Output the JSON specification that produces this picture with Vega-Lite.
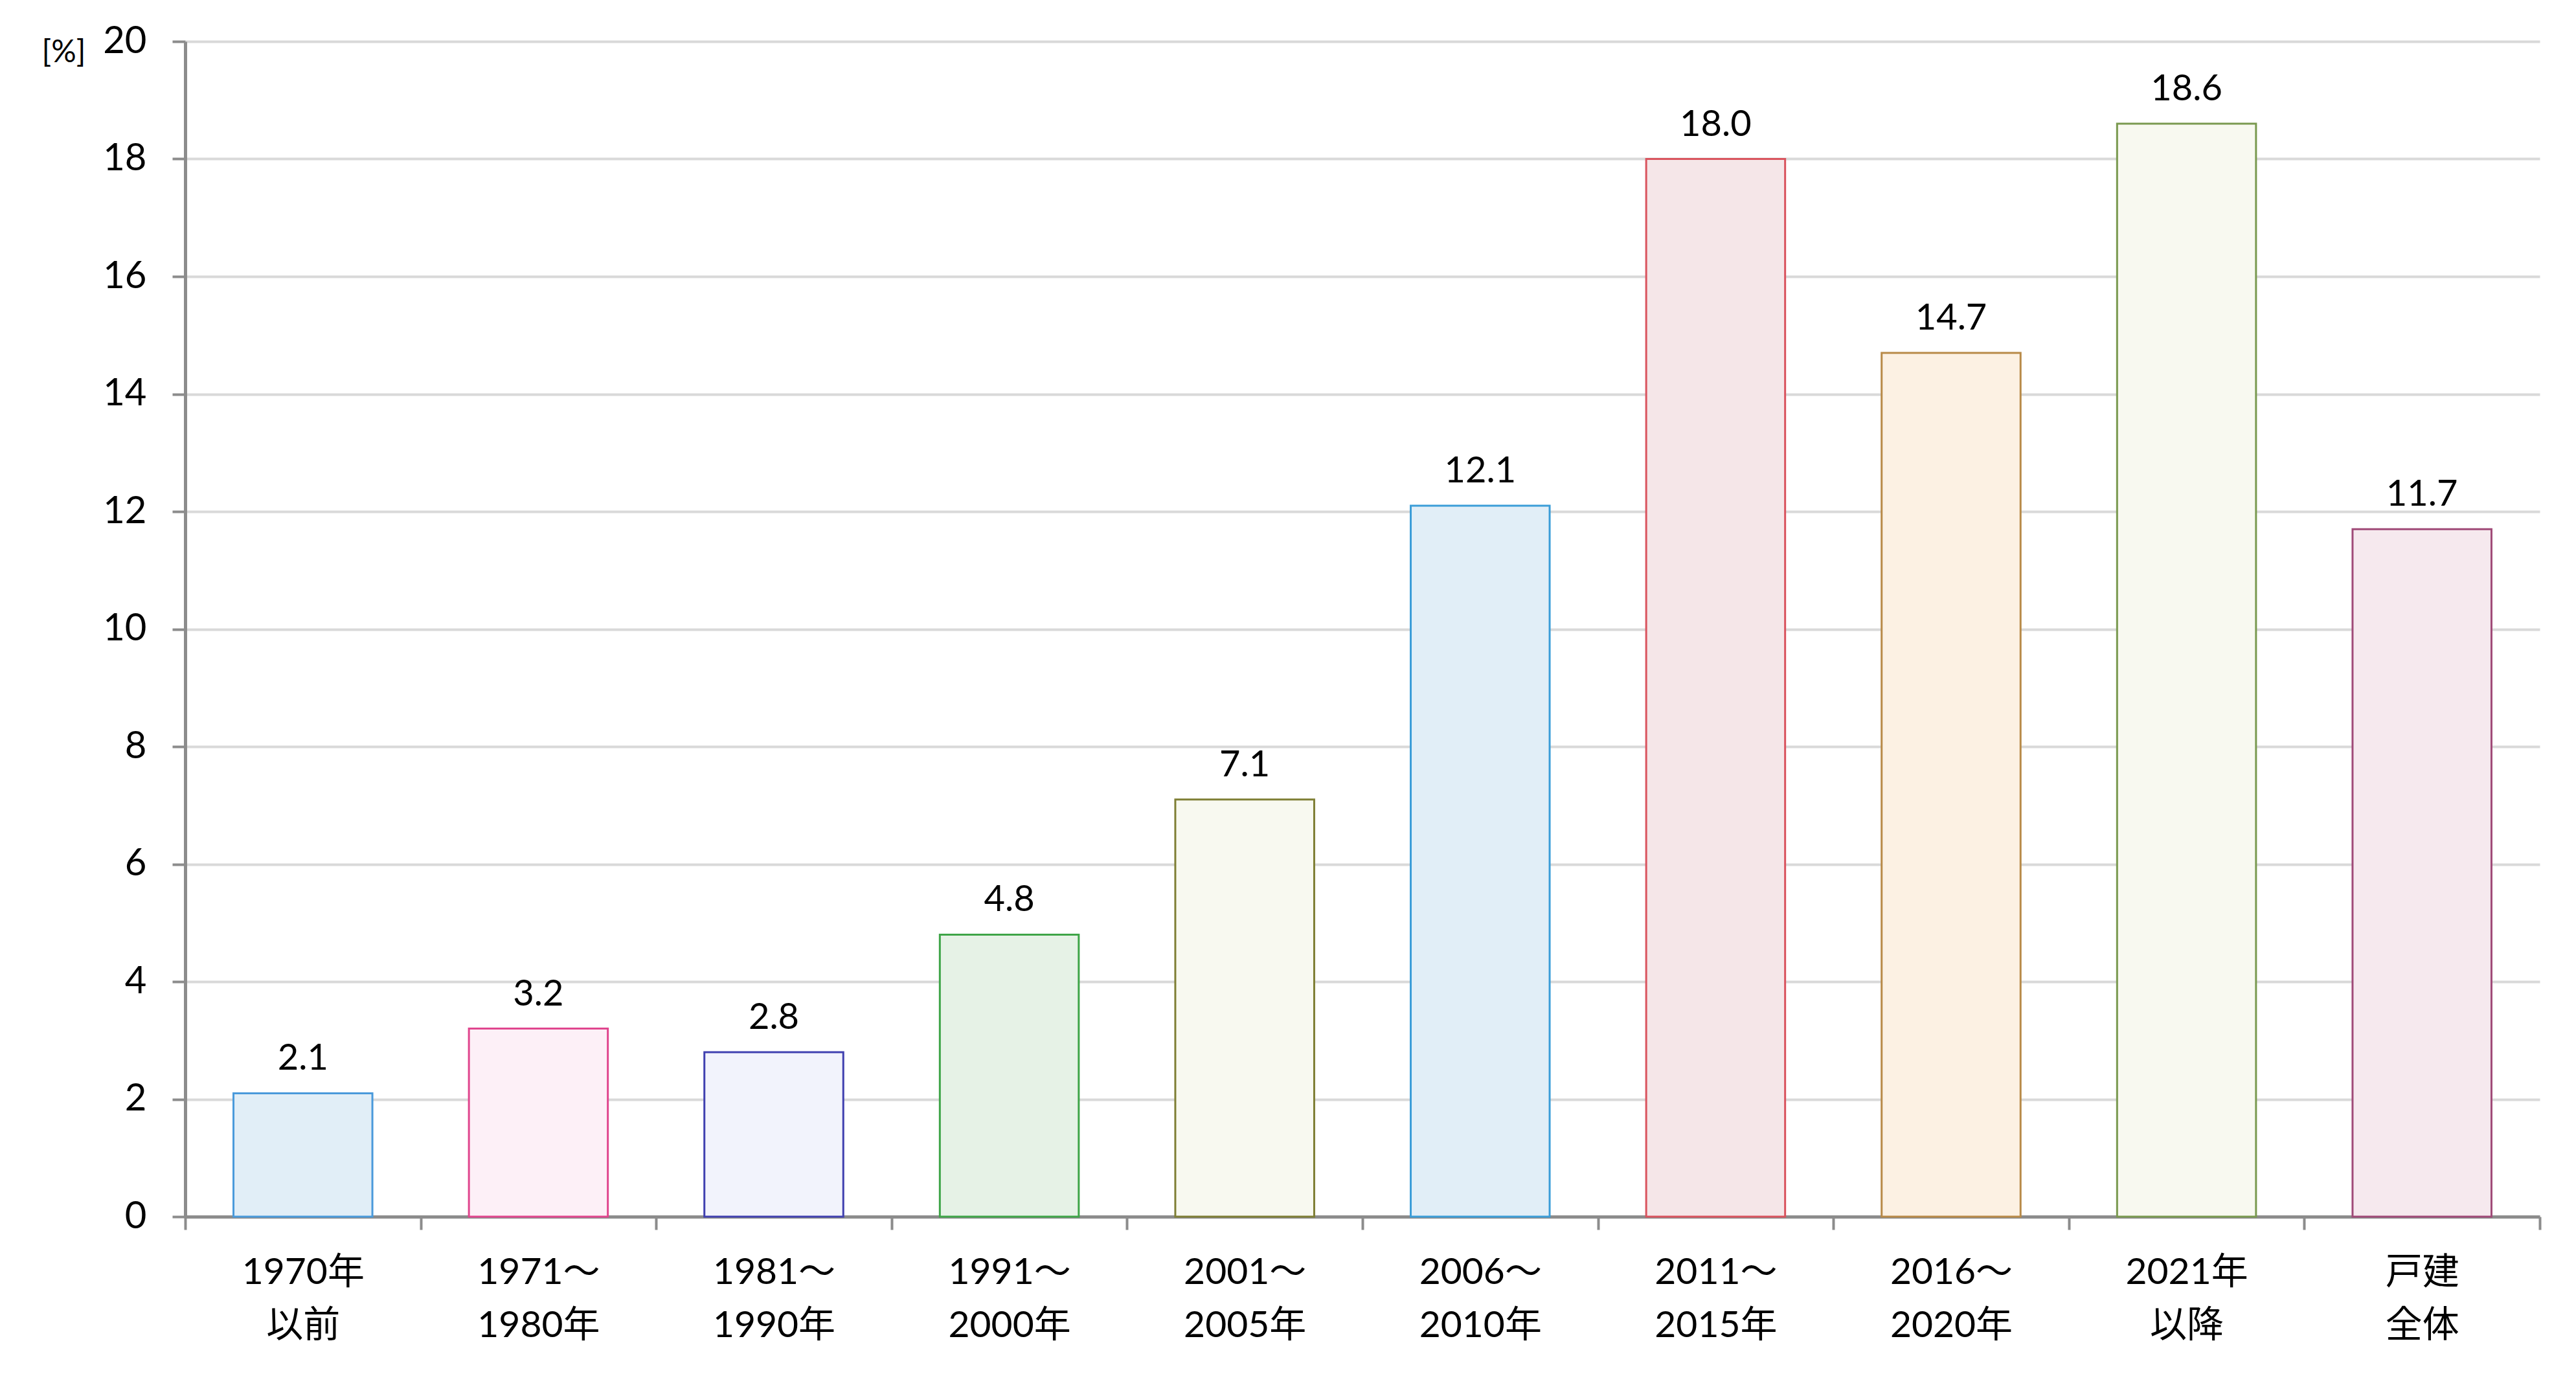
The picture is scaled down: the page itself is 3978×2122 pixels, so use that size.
{
  "$schema": "https://vega.github.io/schema/vega-lite/v6.json",
  "autosize": {"type": "none"},
  "width": 3636,
  "height": 1815,
  "padding": {"left": 286, "top": 64, "right": 56, "bottom": 243},
  "background": "white",
  "config": {
    "view": {"stroke": null},
    "font": "Lato, Noto Sans CJK JP, sans-serif"
  },
  "data": {
    "values": [
      {"cat": "1970年|以前", "value": 2.1},
      {"cat": "1971〜|1980年", "value": 3.2},
      {"cat": "1981〜|1990年", "value": 2.8},
      {"cat": "1991〜|2000年", "value": 4.8},
      {"cat": "2001〜|2005年", "value": 7.1},
      {"cat": "2006〜|2010年", "value": 12.1},
      {"cat": "2011〜|2015年", "value": 18.0},
      {"cat": "2016〜|2020年", "value": 14.7},
      {"cat": "2021年|以降", "value": 18.6},
      {"cat": "戸建|全体", "value": 11.7}
    ]
  },
  "encoding": {
    "x": {
      "field": "cat",
      "type": "nominal",
      "sort": null,
      "scale": {"paddingInner": 0, "paddingOuter": 0},
      "axis": {
        "title": null,
        "labelAngle": 0,
        "labelExpr": "split(datum.label, '|')",
        "labelFont": "Lato, Noto Sans CJK JP, sans-serif",
        "labelFontSize": 57,
        "labelColor": "#000000",
        "labelLineHeight": 82,
        "labelBaseline": "top",
        "labelPadding": 38,
        "labelLimit": 0,
        "tickBand": "extent",
        "tickSize": 20,
        "tickWidth": 4,
        "tickColor": "#8C8C8C",
        "domainColor": "#8C8C8C",
        "domainWidth": 5,
        "grid": false
      }
    },
    "y": {
      "field": "value",
      "type": "quantitative",
      "scale": {"domain": [0, 20]},
      "axis": {
        "title": "[%]",
        "titleAngle": 0,
        "titleX": -188,
        "titleY": 17,
        "titleAlign": "center",
        "titleBaseline": "middle",
        "titleFontSize": 48,
        "titleFontWeight": "normal",
        "titleColor": "#000000",
        "titleFont": "Lato, sans-serif",
        "values": [0, 2, 4, 6, 8, 10, 12, 14, 16, 18, 20],
        "labelFontSize": 58,
        "labelColor": "#000000",
        "labelFont": "Lato, sans-serif",
        "labelPadding": 40,
        "tickSize": 20,
        "tickWidth": 4,
        "tickColor": "#8C8C8C",
        "domainColor": "#8C8C8C",
        "domainWidth": 5,
        "grid": true,
        "gridColor": "#D9D9D9",
        "gridWidth": 4
      }
    }
  },
  "layer": [
    {
      "mark": {"type": "bar", "strokeWidth": 3, "width": {"band": 0.59}},
      "encoding": {
        "fill": {
          "field": "cat",
          "type": "nominal",
          "sort": null,
          "legend": null,
          "scale": {
            "domain": ["1970年|以前", "1971〜|1980年", "1981〜|1990年", "1991〜|2000年", "2001〜|2005年", "2006〜|2010年", "2011〜|2015年", "2016〜|2020年", "2021年|以降", "戸建|全体"],
            "range": ["#E1EEF7", "#FDF0F7", "#F2F3FC", "#E6F2E6", "#F8F9F0", "#E1EEF7", "#F5E6E8", "#FCF1E3", "#F8F9F0", "#F6E9EE"]
          }
        },
        "stroke": {
          "field": "cat",
          "type": "nominal",
          "sort": null,
          "legend": null,
          "scale": {
            "domain": ["1970年|以前", "1971〜|1980年", "1981〜|1990年", "1991〜|2000年", "2001〜|2005年", "2006〜|2010年", "2011〜|2015年", "2016〜|2020年", "2021年|以降", "戸建|全体"],
            "range": ["#4A9ADB", "#E0468E", "#4040B0", "#3FA548", "#7F7F35", "#3B9DD8", "#D9545E", "#B88A48", "#7A9A50", "#A04A78"]
          }
        }
      }
    },
    {
      "mark": {"type": "text", "baseline": "alphabetic", "dy": -36, "fontSize": 56, "font": "Lato, sans-serif", "color": "#000000"},
      "encoding": {
        "text": {"field": "value", "type": "quantitative", "format": ".1f"}
      }
    }
  ]
}
